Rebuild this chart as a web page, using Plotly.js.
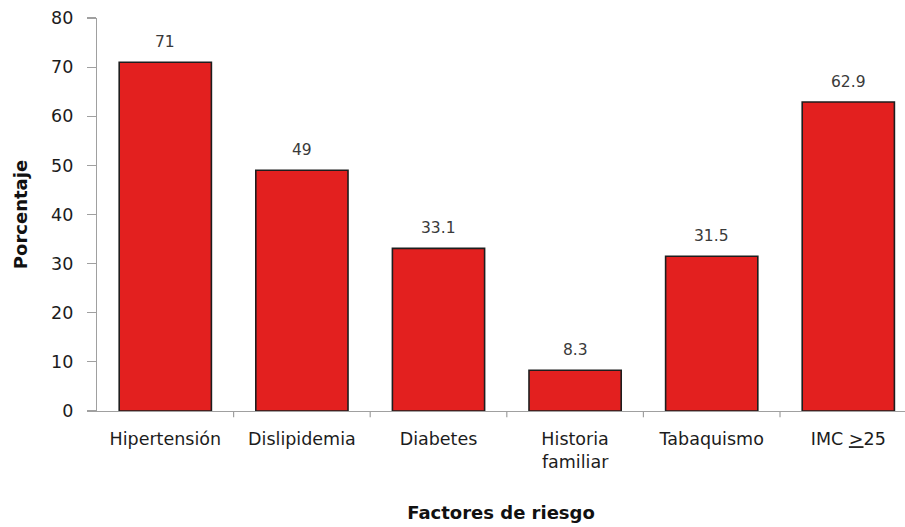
<!DOCTYPE html>
<html>
<head>
<meta charset="utf-8">
<script src="https://cdn.plot.ly/plotly-3.0.1.min.js"></script>
<style>html,body{margin:0;padding:0;background:#fff;}#chart{width:905px;height:527px;}</style>
</head>
<body>
<div id="chart"></div>
<script>
const categories = ["Hipertensión", "Dislipidemia", "Diabetes", "Historia<br>familiar", "Tabaquismo", "IMC <u>></u>25"];
const values = [71, 49, 33.1, 8.3, 31.5, 62.9];
const valueLabels = ["71", "49", "33.1", "8.3", "31.5", "62.9"];
const yTicks = [0, 10, 20, 30, 40, 50, 60, 70, 80];

const trace = {
  type: "bar",
  x: categories,
  y: values,
  marker: { color: "#e3201f", line: { color: "#1e1e1e", width: 1.6 } },
  hoverinfo: "none"
};

const annotations = categories.map((c, i) => ({
  x: c, y: values[i], xref: "x", yref: "y",
  text: valueLabels[i], showarrow: false,
  yanchor: "bottom", yshift: 9,
  font: { family: "DejaVu Sans, Verdana, sans-serif", size: 15.5, color: "#3a3a3a" }
}));

const layout = {
  width: 905, height: 527,
  margin: { l: 97, r: 0, t: 18, b: 116 },
  paper_bgcolor: "#fff", plot_bgcolor: "#fff",
  showlegend: false,
  bargap: 0.325,
  font: { family: "DejaVu Sans, Verdana, sans-serif", color: "#222" },
  xaxis: {
    type: "category",
    range: [-0.5, 5.415],
    automargin: false,
    showline: true, linecolor: "#a0a0a0", linewidth: 1.2,
    ticks: "", showgrid: false, zeroline: false,
    ticklabelstandoff: 12,
    tickfont: { size: 17.5, color: "#1c1c1c" },
    title: { text: "<b>Factores de riesgo</b>", font: { size: 18, color: "#111" }, standoff: 35 }
  },
  yaxis: {
    range: [0, 80],
    automargin: false,
    tickvals: yTicks,
    ticktext: yTicks.map(String),
    showline: true, linecolor: "#a0a0a0", linewidth: 1.2,
    ticks: "outside", ticklen: 9, tickcolor: "#a0a0a0", tickwidth: 1.2,
    ticklabelstandoff: 10,
    showgrid: false, zeroline: false,
    tickfont: { size: 17.5, color: "#1c1c1c" },
    title: { text: "<b>Porcentaje</b>", font: { size: 18, color: "#111" }, standoff: 18 }
  },
  shapes: [1, 2, 3, 4, 5].map(k => ({
    type: "line", xref: "x", yref: "paper",
    x0: k - 0.5, x1: k - 0.5, y0: 0, y1: -0.016,
    line: { color: "#a0a0a0", width: 1.2 }
  })),
  annotations: annotations
};

Plotly.newPlot("chart", [trace], layout, { displayModeBar: false, staticPlot: true });
</script>
</body>
</html>
